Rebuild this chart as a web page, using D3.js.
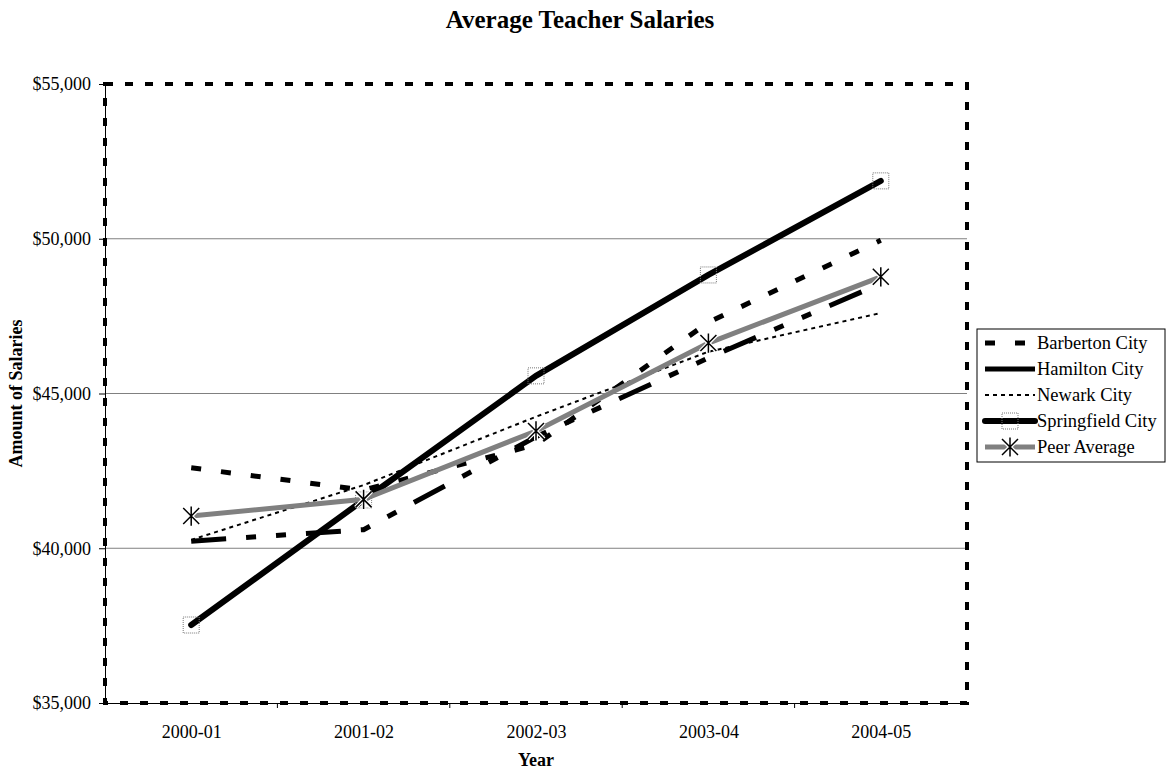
<!DOCTYPE html>
<html>
<head>
<meta charset="utf-8">
<script src="https://cdn.jsdelivr.net/npm/d3@7"></script>
<style>
  body { margin: 0; background: #fff; }
  text { font-family: "Liberation Serif", "Times New Roman", serif; }
</style>
</head>
<body>
<div id="chart"></div>
<script>
const years = ["2000-01", "2001-02", "2002-03", "2003-04", "2004-05"];
const barberton = [42600, 41880, 43350, 47300, 49950];
const hamilton = [40230, 40600, 43600, 46150, 48550];
const newark = [40270, 42040, 44250, 46350, 47600];
const springfield = [37520, 41560, 45570, 48830, 51870];
const peerAverage = [41040, 41580, 43790, 46630, 48770];
const yTicks = [35000, 40000, 45000, 50000, 55000];

const series = [
    { name: "Barberton City", values: barberton, color: "#000", width: 5, dash: "10,20", cap: "butt" },
    { name: "Hamilton City", values: hamilton, color: "#000", width: 5, dash: "35,20,10,20,10,20", cap: "butt" },
    { name: "Newark City", values: newark, color: "#000", width: 2, dash: "4,4", cap: "butt" },
    { name: "Springfield City", values: springfield, color: "#000", width: 6, dash: null, cap: "round", marker: "square" },
    { name: "Peer Average", values: peerAverage, color: "#808080", width: 5, dash: null, cap: "butt", marker: "star" },
];

const width = 1166,
    height = 770,
    margin = { top: 84, right: 199, bottom: 67, left: 105 };
const plotW = width - margin.left - margin.right,
    plotH = height - margin.top - margin.bottom;

const svg = d3.select("#chart").append("svg")
    .attr("width", width)
    .attr("height", height);

const x = d3.scalePoint().domain(years).range([margin.left, margin.left + plotW]).padding(0.5);
const xb = d3.scaleBand().domain(years).range([margin.left, margin.left + plotW]);
const y = d3.scaleLinear().domain([35000, 55000]).range([margin.top + plotH, margin.top]);

// title
svg.append("text")
    .attr("x", 580).attr("y", 28)
    .attr("text-anchor", "middle")
    .attr("font-size", 25).attr("font-weight", "bold")
    .text("Average Teacher Salaries");

// gridlines
svg.append("g").selectAll("line")
    .data(yTicks.filter(d => d > 35000 && d < 55000))
    .join("line")
    .attr("x1", margin.left).attr("x2", margin.left + plotW)
    .attr("y1", d => y(d)).attr("y2", d => y(d))
    .attr("stroke", "#808080").attr("stroke-width", 1);

// y axis
const yAxis = svg.append("g")
    .attr("transform", `translate(${margin.left},0)`)
    .call(d3.axisLeft(y).tickValues(yTicks).tickSize(6).tickFormat(d => "$" + d3.format(",")(d)));
yAxis.select(".domain").attr("stroke", "#000");
yAxis.selectAll("text").attr("font-size", 18).attr("fill", "#000")
    .attr("font-family", "Liberation Serif").attr("dx", -5);

// x axis
const xAxis = svg.append("g")
    .attr("transform", `translate(0,${margin.top + plotH})`)
    .call(d3.axisBottom(x).tickSize(0).tickPadding(22));
xAxis.select(".domain").attr("stroke", "#000");
xAxis.selectAll("text").attr("font-size", 18).attr("fill", "#000")
    .attr("font-family", "Liberation Serif");
xAxis.selectAll(".bound").data(years.slice(1)).join("line")
    .attr("x1", d => xb(d)).attr("x2", d => xb(d))
    .attr("y1", 0).attr("y2", 5)
    .attr("stroke", "#000");

// axis titles
svg.append("text")
    .attr("x", x("2002-03")).attr("y", 766)
    .attr("text-anchor", "middle")
    .attr("font-size", 18).attr("font-weight", "bold")
    .text("Year");
svg.append("text")
    .attr("transform", `translate(22,${margin.top + plotH / 2}) rotate(-90)`)
    .attr("text-anchor", "middle")
    .attr("font-size", 18).attr("font-weight", "bold")
    .text("Amount of Salaries");

// plot area border (dotted)
svg.append("rect")
    .attr("x", margin.left).attr("y", margin.top)
    .attr("width", plotW).attr("height", plotH)
    .attr("fill", "none")
    .attr("stroke", "#000").attr("stroke-width", 4)
    .attr("stroke-dasharray", "8,12");

// lines
const line = d3.line()
    .x((d, i) => x(years[i]))
    .y(d => y(d));

const starPath = s => `M${-s},${-s}L${s},${s}M${-s},${s}L${s},${-s}M0,${-s * 1.2}L0,${s * 1.2}`;

function drawMarker(g, kind, cx, cy) {
    if (kind === "square") {
        g.append("rect")
            .attr("x", cx - 8).attr("y", cy - 8)
            .attr("width", 16).attr("height", 16)
            .attr("fill", "none")
            .attr("stroke", "#777").attr("stroke-width", 1)
            .attr("stroke-dasharray", "1,1");
    } else if (kind === "star") {
        g.append("path")
            .attr("transform", `translate(${cx},${cy})`)
            .attr("d", starPath(8))
            .attr("stroke", "#fff").attr("stroke-width", 4).attr("fill", "none");
        g.append("path")
            .attr("transform", `translate(${cx},${cy})`)
            .attr("d", starPath(8))
            .attr("stroke", "#000").attr("stroke-width", 1.5).attr("fill", "none");
    }
}

const plot = svg.append("g");
series.forEach(s => {
    plot.append("path")
        .datum(s.values)
        .attr("d", line)
        .attr("fill", "none")
        .attr("stroke", s.color)
        .attr("stroke-width", s.width)
        .attr("stroke-linecap", s.cap)
        .attr("stroke-dasharray", s.dash);
    if (s.marker) {
        s.values.forEach((v, i) => drawMarker(plot, s.marker, x(years[i]), y(v)));
    }
});

// legend
const legend = svg.append("g").attr("transform", "translate(977,329)");
legend.append("rect")
    .attr("width", 188).attr("height", 133)
    .attr("fill", "#fff").attr("stroke", "#000").attr("stroke-width", 1);
series.forEach((s, i) => {
    const ly = 14 + i * 26;
    const g = legend.append("g");
    g.append("line")
        .attr("x1", 8).attr("x2", 58)
        .attr("y1", ly).attr("y2", ly)
        .attr("stroke", s.color)
        .attr("stroke-width", s.width)
        .attr("stroke-linecap", s.cap)
        .attr("stroke-dasharray", s.name === "Hamilton City" ? null : s.dash);
    if (s.marker) drawMarker(g, s.marker, 33, ly);
    g.append("text")
        .attr("x", 60).attr("y", ly + 6)
        .attr("font-size", 18.5)
        .text(s.name);
});
</script>
</body>
</html>
